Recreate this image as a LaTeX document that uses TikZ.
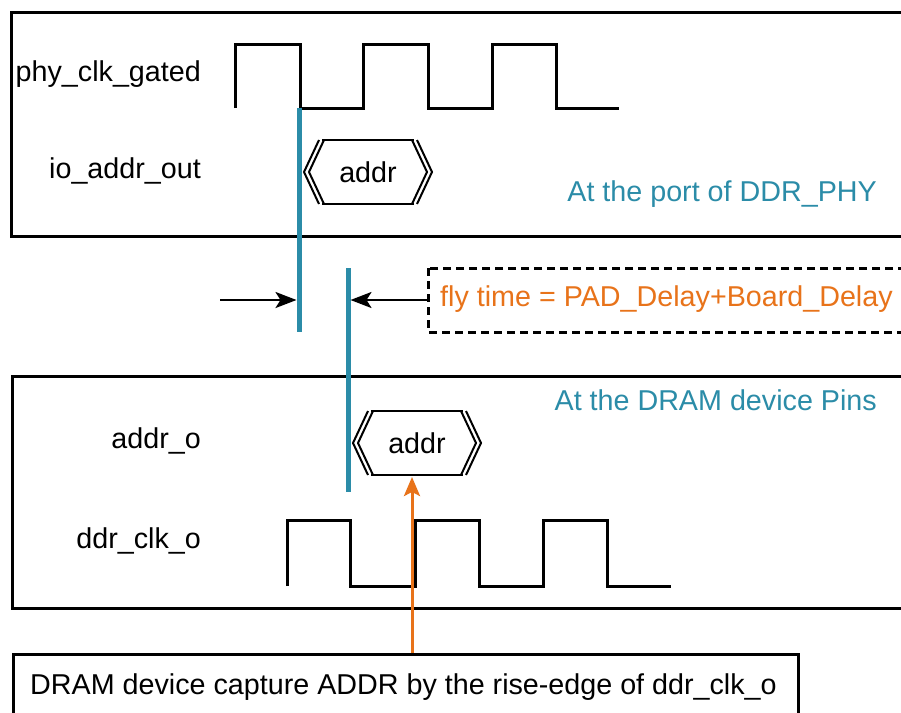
\documentclass[tikz,border=0pt]{standalone}
\usepackage{fontspec}
\setmainfont{Liberation Sans}
\usetikzlibrary{arrows.meta}
\definecolor{teal1}{RGB}{43,140,168}
\definecolor{orng}{RGB}{232,115,26}
\tikzset{
  frame/.style={draw=black,line width=3pt},
  lbl/.style={font=\fontsize{28.7}{33}\selectfont,inner sep=0pt},
  wave/.style={draw=black,line width=3pt,line join=miter},
  marker/.style={draw=teal1,line width=5pt},
  darrow/.style={draw=black,line width=2.6pt,-{Stealth[length=21pt,width=16pt,inset=5pt]}},
  oarrow/.style={draw=orng,line width=3pt,-{Stealth[length=19pt,width=16pt,inset=4pt]}},
  pics/bus/.style={code={
    \draw[line width=2pt,line join=miter] (-46,-32) -- (46,-32) (-46,32) -- (46,32);
    \draw[line width=2pt,line join=miter] (-44,-32) -- (-59,0) -- (-44,32);
    \draw[line width=2pt,line join=miter] (-49,-32) -- (-64,0) -- (-49,32);
    \draw[line width=2pt,line join=miter] (44,-32) -- (59,0) -- (44,32);
    \draw[line width=2pt,line join=miter] (49,-32) -- (64,0) -- (49,32);
  }}
}
\begin{document}
\begin{tikzpicture}[x=1pt,y=-1pt]
\clip (0,0) rectangle (901,712);
\fill[white] (0,0) rectangle (901,712);
% frames
\draw[frame] (11,12) rectangle (915,236);
\draw[frame] (12,376) rectangle (915,608);
\draw[frame,dash pattern=on 8pt off 5pt] (428,268) rectangle (915,332);
\node[frame,anchor=north west,inner sep=0pt,minimum width=785pt,minimum height=80pt] (cap) at (12,653) {};
\node[lbl,anchor=west] (captxt) at (30,687) {DRAM device capture ADDR by the rise-edge of ddr\_clk\_o};
% labels
\node[lbl,anchor=east] (l1) at (201,74) {phy\_clk\_gated};
\node[lbl,anchor=east] (l2) at (201,171) {io\_addr\_out};
\node[lbl,anchor=east] (l3) at (201,441) {addr\_o};
\node[lbl,anchor=east] (l4) at (201,541) {ddr\_clk\_o};
\node[lbl,anchor=east,text=teal1] (t1) at (877,194) {At the port of DDR\_PHY};
\node[lbl,anchor=east,text=teal1] (t2) at (877,400) {At the DRAM device Pins};
\node[lbl,anchor=west,text=orng] (fly) at (440,299) {fly time = PAD\_Delay+Board\_Delay};
% waveforms
\draw[wave] (235,108) -- (235,44) -- (300,44) -- (300,108) -- (363,108) -- (363,44) -- (428,44) -- (428,108) -- (492,108) -- (492,44) -- (556,44) -- (556,108) -- (619,108);
\draw[wave] (287,586) -- (287,520) -- (350,520) -- (350,586) -- (415,586) -- (415,520) -- (479,520) -- (479,586) -- (543,586) -- (543,520) -- (607,520) -- (607,586) -- (671,586);
% bus shapes
\pic at (368,172) {bus};
\node[lbl] (a1) at (368,172) {addr};
\pic at (417,443) {bus};
\node[lbl] (a2) at (417,443) {addr};
% markers
\coordinate (m1t) at (299,108);
\coordinate (m1b) at (299,332);
\coordinate (m2t) at (348,268);
\coordinate (m2b) at (348,492);
\draw[marker] (m1t) -- (m1b);
\draw[marker] (m2t) -- (m2b);
% arrows
\coordinate (al) at (220,300);
\coordinate (alt) at (296.5,300);
\coordinate (art) at (350.5,300);
\coordinate (ar) at (428,300);
\draw[darrow] (al) -- (alt);
\draw[darrow] (ar) -- (art);
\coordinate (os) at (412,653);
\coordinate (oe) at (412,477);
\draw[oarrow] (os) -- (oe);
\end{tikzpicture}
\end{document}
